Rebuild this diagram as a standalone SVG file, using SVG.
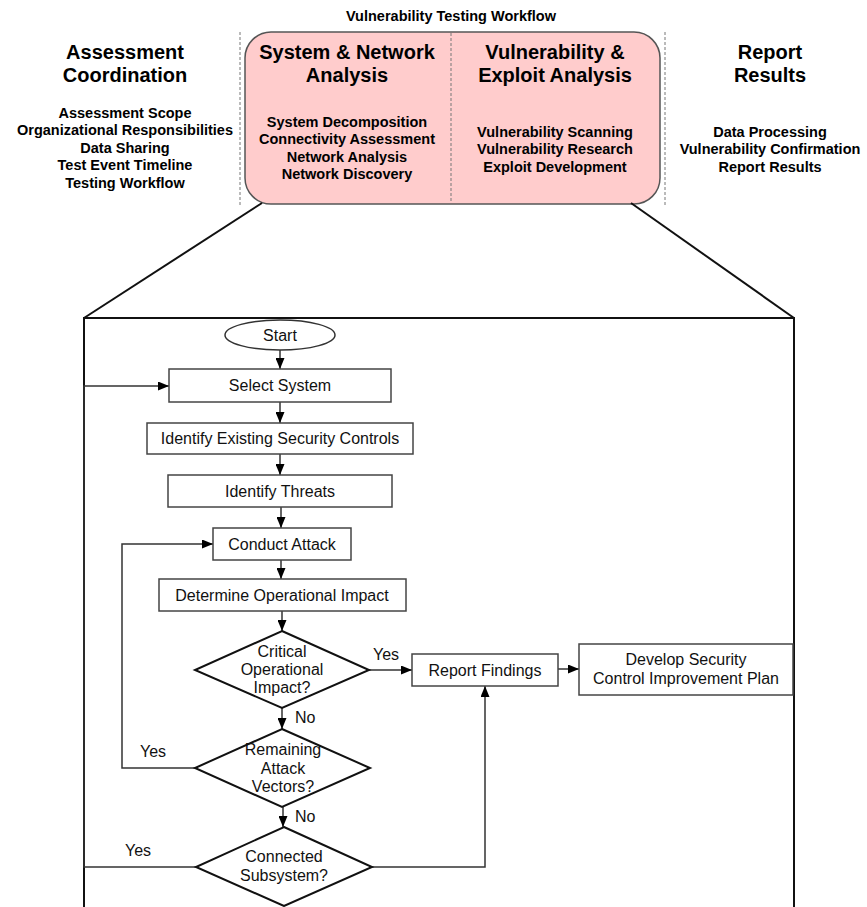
<svg xmlns="http://www.w3.org/2000/svg" width="867" height="907" viewBox="0 0 867 907">
<style>
.hd{font-family:"Liberation Sans",Arial,sans-serif;font-weight:bold;font-size:20px;fill:#000;text-anchor:middle}
.sb{font-family:"Liberation Sans",Arial,sans-serif;font-weight:bold;font-size:14.5px;fill:#000;text-anchor:middle}
.t{font-family:"Liberation Sans",Arial,sans-serif;font-size:16px;fill:#111;text-anchor:middle}
.lb{font-family:"Liberation Sans",Arial,sans-serif;font-size:16px;fill:#111}
.box{fill:#fff;stroke:#444;stroke-width:1.5}
.dia{fill:#fff;stroke:#111;stroke-width:2}
.con{fill:none;stroke:#333;stroke-width:1.5}
.dash{stroke:#777;stroke-width:1;stroke-dasharray:3 2;fill:none}
.frame{fill:none;stroke:#111;stroke-width:2}
</style>
<defs>
<marker id="ah" markerUnits="userSpaceOnUse" markerWidth="11" markerHeight="9" refX="11" refY="4.5" orient="auto">
<path d="M0,0 L11,4.5 L0,9 z" fill="#000"/>
</marker>
</defs>
<rect width="867" height="907" fill="#fff"/>

<g id="header">
<text class="sb" x="451" y="21">Vulnerability Testing Workflow</text>
<rect x="245" y="32" width="415" height="172" rx="26" ry="26" fill="#ffcccc" stroke="#555" stroke-width="1.5"/>
<line class="dash" x1="240" y1="32" x2="240" y2="206"/>
<line class="dash" x1="451" y1="33" x2="451" y2="203"/>
<line class="dash" x1="665" y1="32" x2="665" y2="206"/>
</g>

<g id="assessment-coordination">
<text class="hd" x="125" y="59">Assessment</text>
<text class="hd" x="125" y="81.5">Coordination</text>
<text class="sb" x="125" y="117.5">Assessment Scope</text>
<text class="sb" x="125" y="135">Organizational Responsibilities</text>
<text class="sb" x="125" y="152.5">Data Sharing</text>
<text class="sb" x="125" y="170">Test Event Timeline</text>
<text class="sb" x="125" y="187.5">Testing Workflow</text>
</g>

<g id="system-network-analysis">
<text class="hd" x="347" y="59">System &amp; Network</text>
<text class="hd" x="347" y="81.5">Analysis</text>
<text class="sb" x="347" y="126.5">System Decomposition</text>
<text class="sb" x="347" y="144">Connectivity Assessment</text>
<text class="sb" x="347" y="161.5">Network Analysis</text>
<text class="sb" x="347" y="179">Network Discovery</text>
</g>

<g id="vulnerability-exploit-analysis">
<text class="hd" x="555" y="59">Vulnerability &amp;</text>
<text class="hd" x="555" y="81.5">Exploit Analysis</text>
<text class="sb" x="555" y="136.5">Vulnerability Scanning</text>
<text class="sb" x="555" y="154">Vulnerability Research</text>
<text class="sb" x="555" y="171.5">Exploit Development</text>
</g>

<g id="report-results">
<text class="hd" x="770" y="59">Report</text>
<text class="hd" x="770" y="81.5">Results</text>
<text class="sb" x="770" y="136.5">Data Processing</text>
<text class="sb" x="770" y="154">Vulnerability Confirmation</text>
<text class="sb" x="770" y="171.5">Report Results</text>
</g>

<g id="zoom-frame">
<line class="frame" x1="262" y1="203" x2="84" y2="318" stroke-width="1.6"/>
<line class="frame" x1="631" y1="203" x2="794" y2="318" stroke-width="1.6"/>
<path class="frame" d="M84,907 V318 H794 V907"/>
</g>

<g id="connectors">
<path class="con" d="M280,350 V369" marker-end="url(#ah)"/>
<path class="con" d="M280,402 V423" marker-end="url(#ah)"/>
<path class="con" d="M280,454 V475" marker-end="url(#ah)"/>
<path class="con" d="M281,507 V528" marker-end="url(#ah)"/>
<path class="con" d="M281,560 V579" marker-end="url(#ah)"/>
<path class="con" d="M282,611 V631" marker-end="url(#ah)"/>
<path class="con" d="M369,670 H412" marker-end="url(#ah)" stroke-width="2"/>
<path class="con" d="M558,669 H579" marker-end="url(#ah)" stroke-width="2"/>
<path class="con" d="M282,708 V729" marker-end="url(#ah)"/>
<path class="con" d="M195,768 H122 V544 H213" marker-end="url(#ah)"/>
<path class="con" d="M283,807 V827" marker-end="url(#ah)"/>
<path class="con" d="M196,867 H84 V386 H169" marker-end="url(#ah)"/>
<path class="con" d="M372,867 H485 V686" marker-end="url(#ah)"/>
<text class="lb" x="373" y="660">Yes</text>
<text class="lb" x="295" y="723">No</text>
<text class="lb" x="140" y="757">Yes</text>
<text class="lb" x="295" y="822">No</text>
<text class="lb" x="125" y="856">Yes</text>
</g>

<g id="start">
<ellipse cx="280" cy="335" rx="55" ry="15" fill="#fff" stroke="#333" stroke-width="1.5"/>
<text class="t" x="280" y="340.5">Start</text>
</g>
<g id="select-system">
<rect class="box" x="169" y="369" width="222" height="33"/>
<text class="t" x="280" y="391">Select System</text>
</g>
<g id="identify-controls">
<rect class="box" x="147" y="423" width="266" height="31"/>
<text class="t" x="280" y="444">Identify Existing Security Controls</text>
</g>
<g id="identify-threats">
<rect class="box" x="168" y="475" width="224" height="32"/>
<text class="t" x="280" y="496.5">Identify Threats</text>
</g>
<g id="conduct-attack">
<rect class="box" x="213" y="528" width="138" height="32"/>
<text class="t" x="282" y="549.5">Conduct Attack</text>
</g>
<g id="determine-impact">
<rect class="box" x="159" y="579" width="247" height="32"/>
<text class="t" x="282" y="600.5">Determine Operational Impact</text>
</g>
<g id="critical-impact">
<path class="dia" d="M282,631 L369,670 L282,708 L195,670 Z"/>
<text class="t" x="282" y="657">Critical</text>
<text class="t" x="282" y="675">Operational</text>
<text class="t" x="282" y="693">Impact?</text>
</g>
<g id="report-findings">
<rect class="box" x="412" y="654" width="146" height="32"/>
<text class="t" x="485" y="675.5">Report Findings</text>
</g>
<g id="develop-plan">
<rect class="box" x="579" y="644" width="214" height="51"/>
<text class="t" x="686" y="665">Develop Security</text>
<text class="t" x="686" y="683.5">Control Improvement Plan</text>
</g>
<g id="remaining-vectors">
<path class="dia" d="M282,729 L370,768 L282,807 L195,768 Z"/>
<text class="t" x="283" y="755">Remaining</text>
<text class="t" x="283" y="773.5">Attack</text>
<text class="t" x="283" y="792">Vectors?</text>
</g>
<g id="connected-subsystem">
<path class="dia" d="M284,827 L372,867 L284,906 L196,867 Z"/>
<text class="t" x="284" y="862">Connected</text>
<text class="t" x="284" y="881">Subsystem?</text>
</g>
</svg>
